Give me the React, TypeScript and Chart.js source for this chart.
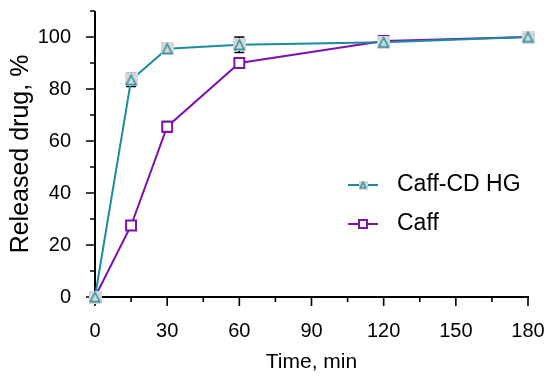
import React, { useEffect, useRef } from "react";
import { Chart, registerables } from "chart.js";

Chart.register(...registerables);

const times = [0, 15, 30, 60, 120, 180];
const caffCdValues = [0, 83.5, 95.5, 97, 98, 100];
const caffCdErrors = [0, 2.5, 0.8, 3, 2, 0.5];
const caffValues = [0, 27.5, 65.5, 90, 98.5, 100];
const caffErrors = [0, 1, 2, 1.5, 1.5, 0.5];
const xMajorTicks = [0, 30, 60, 90, 120, 150, 180];
const xMinorTicks = [15, 45, 75, 105, 135, 165];
const yMajorTicks = [0, 20, 40, 60, 80, 100];
const yMinorTicks = [10, 30, 50, 70, 90, 110];
const seriesNames = ["Caff-CD HG", "Caff"];
const xTitle = "Time, min";
const yTitle = "Released drug, %";

const TEAL = "#1a8c9e";
const PURPLE = "#7e12ae";
const GRAY = "#d6d6d6";
const FONT = "'Liberation Sans', Arial, sans-serif";

function makeTriangleMarker(size: number, lw: number) {
  const c = document.createElement("canvas");
  c.width = size;
  c.height = size;
  const ctx = c.getContext("2d")!;
  ctx.fillStyle = GRAY;
  ctx.fillRect(0, 0, size, size);
  const m = lw / 2 + 1;
  ctx.strokeStyle = TEAL;
  ctx.lineWidth = lw;
  ctx.lineJoin = "miter";
  ctx.beginPath();
  ctx.moveTo(m, size - m);
  ctx.lineTo(size - m, size - m);
  ctx.lineTo(size / 2, m);
  ctx.closePath();
  ctx.stroke();
  return c;
}

const axesAndErrors = {
  id: "axesAndErrors",
  beforeDatasetsDraw(chart: any) {
    const { ctx, scales } = chart;
    const xs = scales.x;
    const ys = scales.y;
    const x0 = xs.getPixelForValue(0);
    const y0 = ys.getPixelForValue(0);
    ctx.save();
    ctx.strokeStyle = "#000";
    ctx.lineWidth = 2;
    ctx.beginPath();
    ctx.moveTo(x0, ys.getPixelForValue(110));
    ctx.lineTo(x0, y0);
    ctx.moveTo(x0 - 1, y0);
    ctx.lineTo(xs.getPixelForValue(180) + 1, y0);
    ctx.stroke();
    ctx.lineWidth = 1.6;
    ctx.beginPath();
    yMajorTicks.forEach((v) => {
      const p = ys.getPixelForValue(v);
      ctx.moveTo(x0 - 9, p);
      ctx.lineTo(x0, p);
    });
    yMinorTicks.forEach((v) => {
      const p = ys.getPixelForValue(v);
      ctx.moveTo(x0 - 5, p);
      ctx.lineTo(x0, p);
    });
    xMajorTicks.forEach((v) => {
      const p = xs.getPixelForValue(v);
      ctx.moveTo(p, y0);
      ctx.lineTo(p, y0 + 9);
    });
    xMinorTicks.forEach((v) => {
      const p = xs.getPixelForValue(v);
      ctx.moveTo(p, y0);
      ctx.lineTo(p, y0 + 5);
    });
    ctx.stroke();

    // error bars
    ctx.lineWidth = 1.5;
    const drawErr = (vals: number[], errs: number[]) => {
      times.forEach((t, i) => {
        if (!errs[i]) return;
        const px = xs.getPixelForValue(t);
        const top = ys.getPixelForValue(vals[i] + errs[i]);
        const bot = ys.getPixelForValue(vals[i] - errs[i]);
        ctx.beginPath();
        ctx.moveTo(px, top);
        ctx.lineTo(px, bot);
        ctx.moveTo(px - 5, top);
        ctx.lineTo(px + 5, top);
        ctx.moveTo(px - 5, bot);
        ctx.lineTo(px + 5, bot);
        ctx.stroke();
      });
    };
    drawErr(caffValues, caffErrors);
    drawErr(caffCdValues, caffCdErrors);
    ctx.restore();
  },
};

const legendPlugin = {
  id: "customLegend",
  afterDraw(chart: any) {
    const { ctx, chartArea } = chart;
    const lx = chartArea.left + 253;
    const ly = chartArea.top + 174;
    const rowGap = 39;
    ctx.save();
    ctx.strokeStyle = TEAL;
    ctx.lineWidth = 2;
    ctx.beginPath();
    ctx.moveTo(lx, ly);
    ctx.lineTo(lx + 30, ly);
    ctx.stroke();
    const small = makeTriangleMarker(9, 1.3);
    ctx.drawImage(small, lx + 15 - 4.5, ly - 4.5);
    ctx.strokeStyle = PURPLE;
    ctx.beginPath();
    ctx.moveTo(lx, ly + rowGap);
    ctx.lineTo(lx + 30, ly + rowGap);
    ctx.stroke();
    ctx.fillStyle = "#fff";
    ctx.fillRect(lx + 11, ly + rowGap - 4, 8, 8);
    ctx.strokeRect(lx + 11, ly + rowGap - 4, 8, 8);
    ctx.fillStyle = "#000";
    ctx.font = `23px ${FONT}`;
    ctx.textBaseline = "middle";
    ctx.textAlign = "left";
    ctx.fillText(seriesNames[0], lx + 49, ly);
    ctx.fillText(seriesNames[1], lx + 49, ly + rowGap);
    ctx.restore();
  },
};

const zeroPadding = (s: any) => {
  s.paddingTop = 0;
  s.paddingBottom = 0;
  s.paddingLeft = 0;
  s.paddingRight = 0;
};

export default function App() {
  const ref = useRef<HTMLCanvasElement>(null);
  useEffect(() => {
    document.body.style.margin = "0";
    const tri = makeTriangleMarker(13, 1.4);
    const chart = new Chart(ref.current!, {
      type: "line",
      data: {
        datasets: [
          {
            label: seriesNames[0],
            data: times.map((t, i) => ({ x: t, y: caffCdValues[i] })),
            borderColor: TEAL,
            borderWidth: 2,
            pointStyle: tri as any,
            pointRadius: 6,
            clip: false as any,
          },
          {
            label: seriesNames[1],
            data: times.map((t, i) => ({ x: t, y: caffValues[i] })),
            borderColor: PURPLE,
            backgroundColor: "#ffffff",
            borderWidth: 2,
            pointStyle: "rect",
            pointRadius: 7,
            pointBorderWidth: 2,
            clip: false as any,
          },
        ],
      },
      options: {
        animation: false,
        responsive: false,
        layout: { padding: { left: 0, right: 22, top: 11, bottom: 0 } },
        plugins: { legend: { display: false }, tooltip: { enabled: false } },
        scales: {
          x: {
            type: "linear",
            min: 0,
            max: 180,
            grid: { display: false },
            border: { display: false },
            afterBuildTicks: (s: any) => {
              s.ticks = xMajorTicks.map((v) => ({ value: v }));
            },
            afterFit: (s: any) => {
              s.height = 82;
              zeroPadding(s);
            },
            ticks: {
              font: { family: FONT, size: 20 },
              color: "#000",
              padding: 14,
              maxRotation: 0,
              autoSkip: false,
            },
            title: {
              display: true,
              text: xTitle,
              color: "#000",
              font: { family: FONT, size: 21 },
              padding: { top: 0, bottom: 4 },
            },
          },
          y: {
            type: "linear",
            min: 0,
            max: 110,
            grid: { display: false },
            border: { display: false },
            afterBuildTicks: (s: any) => {
              s.ticks = yMajorTicks.map((v) => ({ value: v }));
            },
            afterFit: (s: any) => {
              s.width = 95;
              zeroPadding(s);
            },
            ticks: {
              font: { family: FONT, size: 20 },
              color: "#000",
              padding: 16,
              autoSkip: false,
            },
            title: {
              display: true,
              text: yTitle,
              color: "#000",
              font: { family: FONT, size: 25 },
              padding: { top: 6, bottom: 0 },
            },
          },
        },
      },
      plugins: [axesAndErrors, legendPlugin],
    });
    return () => chart.destroy();
  }, []);
  return (
    <div style={{ width: 550, height: 379 }}>
      <canvas ref={ref} width={550} height={379} />
    </div>
  );
}
